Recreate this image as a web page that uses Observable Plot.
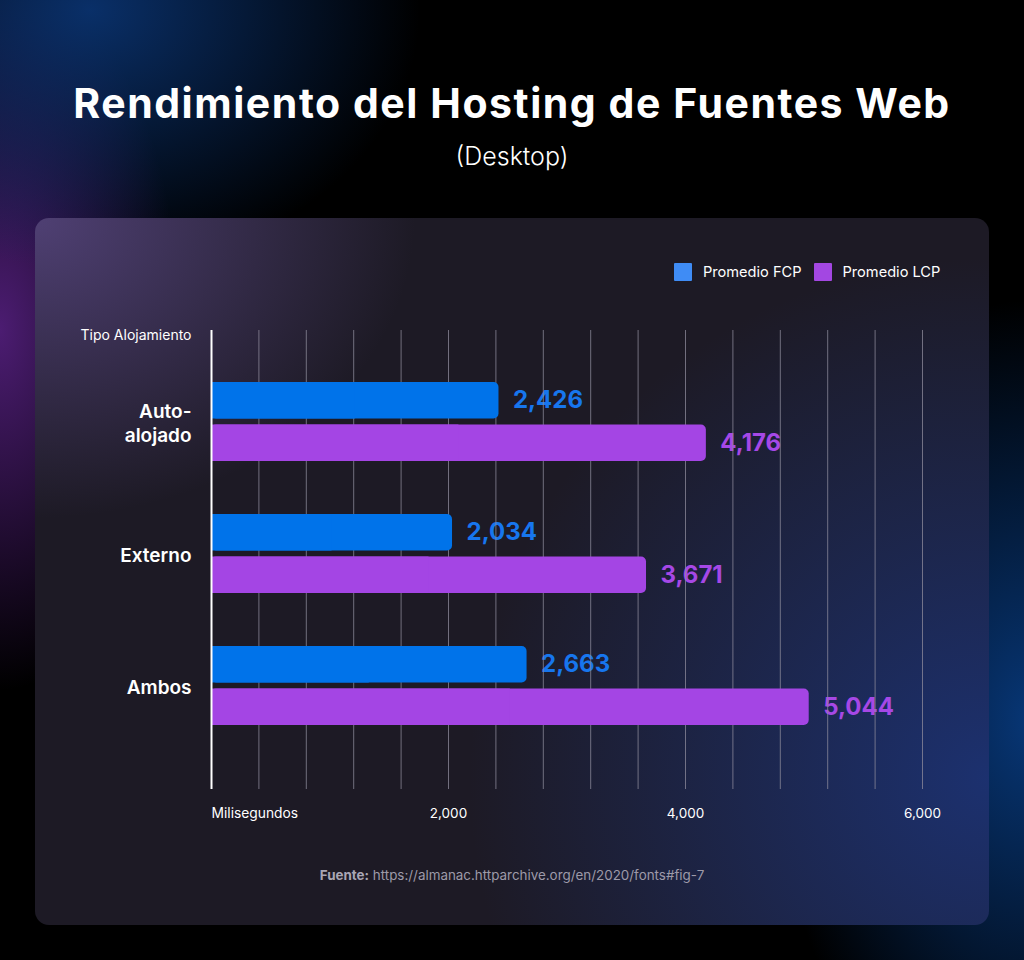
<!DOCTYPE html>
<html>
<head>
<meta charset="utf-8">
<script src="https://cdn.jsdelivr.net/npm/d3@7"></script>
<script src="https://cdn.jsdelivr.net/npm/@observablehq/plot@0.6"></script>
<style>
  html, body { margin: 0; padding: 0; }
  body {
    width: 1024px; height: 960px; position: relative; overflow: hidden;
    font-family: Inter, "Noto Sans", sans-serif; color: #fff;
    background:
      radial-gradient(ellipse 330px 260px at 90px 10px, rgba(10,50,110,0.95) 0%, rgba(10,50,110,0) 100%),
      radial-gradient(ellipse 180px 360px at 0px 330px, rgba(80,30,120,0.95) 0%, rgba(80,30,120,0) 100%),
      radial-gradient(ellipse 260px 420px at 1030px 720px, rgba(8,60,130,0.9) 0%, rgba(8,60,130,0) 100%),
      #000;
  }
  #title {
    position: absolute; left: 0; width: 1024px; top: 83px; text-align: center;
    font-weight: 700; font-size: 41px; line-height: 1; white-space: nowrap;
  }
  #subtitle {
    position: absolute; left: 0; width: 1024px; top: 144px; text-align: center;
    font-weight: 300; font-size: 25px; line-height: 1;
  }
  #panel {
    position: absolute; left: 35px; top: 218px; width: 954px; height: 707px;
    border-radius: 14px; overflow: hidden;
    background:
      radial-gradient(ellipse 380px 300px at 0px 0px, rgba(82,66,120,0.95) 0%, rgba(82,66,120,0) 100%),
      radial-gradient(ellipse 520px 520px at 954px 560px, rgba(28,50,115,0.95) 0%, rgba(28,50,115,0) 100%),
      #1d1a25;
  }
  #legend { position: absolute; left: 639px; top: 45px; display: flex; align-items: center; font-size: 14.6px; }
  .sw { width: 18px; height: 18px; display: inline-block; border-radius: 1px; margin-right: 11px; }
  .item { display: flex; align-items: center; margin-right: 12px; }
  #chart { position: absolute; left: 0; top: 82px; }
  #caption {
    position: absolute; left: 0; width: 954px; top: 651px; text-align: center;
    font-size: 13.4px; color: #9d9aa9; line-height: 1;
  }
  #caption b { font-weight: 700; color: #a9a6b4; }
</style>
</head>
<body>
<div id="title">Rendimiento del Hosting de Fuentes Web</div>
<div id="subtitle">(Desktop)</div>
<div id="panel">
  <div id="legend"></div>
  <div id="chart"></div>
  <div id="caption"><b>Fuente:</b> https://almanac.httparchive.org/en/2020/fonts#fig-7</div>
</div>
<script>
// ---- data ----
const categories = ["Auto-alojado", "Externo", "Ambos"];
const categoryLabels = ["Auto-\nalojado", "Externo", "Ambos"];
const seriesNames = ["Promedio FCP", "Promedio LCP"];
const fcpValues = [2426, 2034, 2663];
const lcpValues = [4176, 3671, 5044];
const xTickLabels = [2000, 4000, 6000];
const xAxisTitle = "Milisegundos";
const yAxisTitle = "Tipo Alojamiento";

// ---- styles ----
const barColors = ["#0073ea", "#a445e4"];
const legendColors = ["#3f8cf5", "#a347e2"];
const labelColors = ["#1776ee", "#a648e6"];

const fcp = categories.map((c, i) => ({cat: c, value: fcpValues[i]}));
const lcp = categories.map((c, i) => ({cat: c, value: lcpValues[i]}));
const fmt = d3.format(",");
const labelOf = new Map(categories.map((c, i) => [c, categoryLabels[i]]));

// fit title width with letter spacing
(function fitTitle() {
  const el = document.getElementById("title");
  const target = 876;
  const span = document.createElement("span");
  span.textContent = el.textContent;
  el.textContent = "";
  el.appendChild(span);
  const w = span.getBoundingClientRect().width;
  const n = span.textContent.length - 1;
  const ls = Math.max(-1, Math.min(3, (target - w) / n));
  el.style.letterSpacing = ls + "px";
})();

// legend
const legend = document.getElementById("legend");
seriesNames.forEach((s, i) => {
  const it = document.createElement("div");
  it.className = "item";
  it.innerHTML = `<span class="sw" style="background:${legendColors[i]}"></span><span>${s}</span>`;
  legend.appendChild(it);
});

const half = 42.5;
const chart = Plot.plot({
  width: 954,
  height: 540,
  marginTop: 30,
  marginBottom: 51,
  marginLeft: 176,
  marginRight: 67,
  style: {background: "transparent", color: "#fff", fontFamily: "Inter, 'Noto Sans', sans-serif", overflow: "visible"},
  x: {domain: [0, 6000], axis: null},
  y: {domain: categories, axis: null, paddingInner: 0.398, paddingOuter: 0.4248, align: 0.451},
  marks: [
    // value labels
    Plot.text(fcp, {x: "value", y: "cat", text: d => fmt(d.value), dx: 14, dy: -half / 2, textAnchor: "start",
      fill: labelColors[0], fontSize: 24, fontWeight: 700}),
    Plot.text(lcp, {x: "value", y: "cat", text: d => fmt(d.value), dx: 14, dy: half / 2, textAnchor: "start",
      fill: labelColors[1], fontSize: 24, fontWeight: 700}),
    // grid
    Plot.ruleX(d3.range(400, 6001, 400), {stroke: "#8f8c9c", strokeOpacity: 0.75, strokeWidth: 1}),
    // bars (rounded + square left half to keep left edge square)
    Plot.barX(fcp, {x1: 0, x2: "value", y: "cat", insetBottom: half, fill: barColors[0], rx: 5}),
    Plot.barX(fcp, {x1: 0, x2: d => d.value / 2, y: "cat", insetBottom: half, fill: barColors[0]}),
    Plot.barX(lcp, {x1: 0, x2: "value", y: "cat", insetTop: half, fill: barColors[1], rx: 5}),
    Plot.barX(lcp, {x1: 0, x2: d => d.value / 2, y: "cat", insetTop: half, fill: barColors[1]}),
    // zero axis
    Plot.ruleX([0], {stroke: "#ffffff", strokeWidth: 2}),
    // y labels
    Plot.text(categories, {y: d => d, text: d => labelOf.get(d), frameAnchor: "left", dx: -20, textAnchor: "end",
      fontSize: 19, fontWeight: 600, lineHeight: 1.3, fill: "#ffffff"}),
    // axis titles
    Plot.text([yAxisTitle], {frameAnchor: "top-left", lineAnchor: "middle", dx: -20, dy: 5, textAnchor: "end", fontSize: 14, fill: "#ffffff"}),
    Plot.text([xAxisTitle], {x: 0, frameAnchor: "bottom", lineAnchor: "middle", dy: 24, textAnchor: "start", fontSize: 13.8, fill: "#ffffff"}),
    // x tick labels
    Plot.text(xTickLabels, {x: d => d, text: d => fmt(d), frameAnchor: "bottom", lineAnchor: "middle", dy: 24, fontSize: 13.5, fill: "#ffffff"})
  ]
});
document.getElementById("chart").appendChild(chart);
</script>
</body>
</html>
